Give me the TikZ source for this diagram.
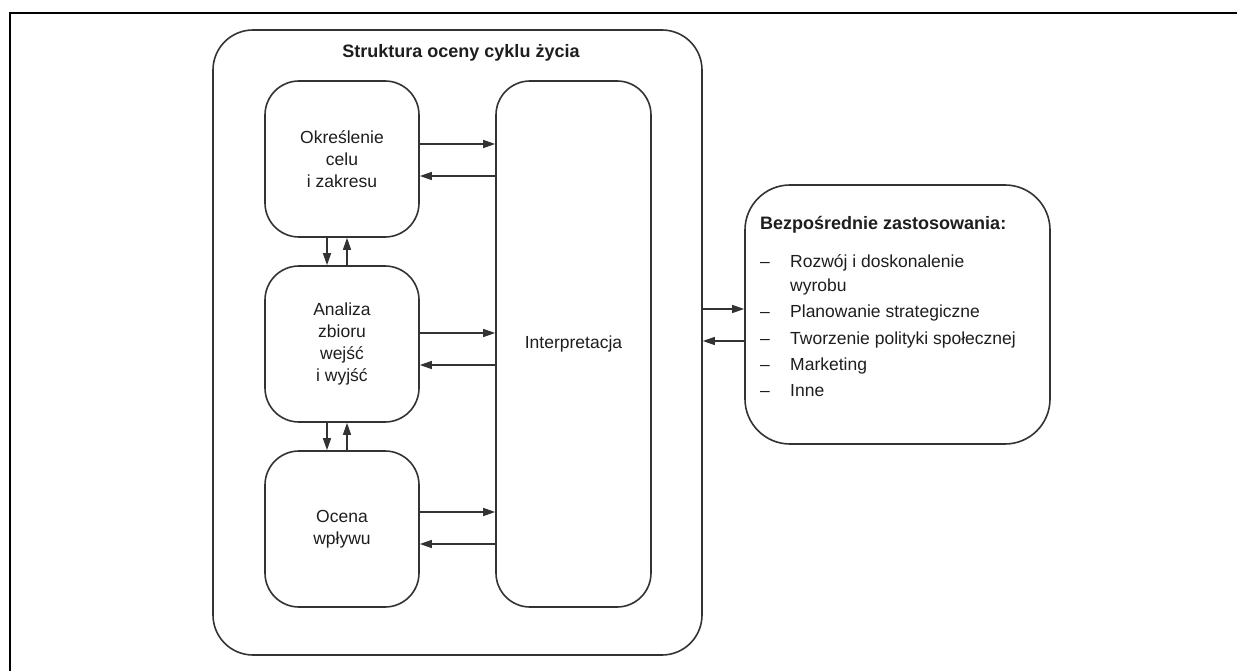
\documentclass[tikz,border=0pt]{standalone}
\usepackage{fontspec}
\setmainfont{Liberation Sans}
\usetikzlibrary{arrows.meta}
\definecolor{linegray}{HTML}{333333}
\definecolor{textgray}{HTML}{1E1E1E}
\begin{document}
\begin{tikzpicture}[x=1pt,y=-1pt,
  box/.style={draw=linegray, line width=1.6pt, rounded corners=34pt, fill=white,
    inner sep=0pt, align=center, text=textgray,
    font=\fontsize{17.5}{22}\selectfont},
  heading/.style={inner sep=0pt, text=textgray, font=\fontsize{18}{22}\selectfont\bfseries},
  item/.style={inner sep=0pt, anchor=base west, text=textgray, font=\fontsize{17.5}{22}\selectfont},
  arr/.style={draw=linegray, line width=1.3pt, -{Triangle[length=12pt,width=8pt]}},
]
\useasboundingbox (0,0) rectangle (1237,671);
% page frame
\draw[line width=2.6pt] (10,690) -- (10,13) -- (1260,13);

% life cycle assessment framework
\node[box, rounded corners=40pt, minimum width=489pt, minimum height=625pt] (big) at (457.5,342.5) {};
\node[heading] (bigtitle) at (461,52.5) {Struktura oceny cyklu życia};

\node[box, minimum width=154pt, minimum height=156pt] (b1) at (342,159) {Określenie\\celu\\i zakresu};
\node[box, minimum width=154pt, minimum height=156pt] (b2) at (342,344) {Analiza\\zbioru\\wejść\\i wyjść};
\node[box, minimum width=154pt, minimum height=156pt] (b3) at (342,529) {Ocena\\wpływu};
\node[box, minimum width=155pt, minimum height=526pt] (ip) at (573.5,344) {Interpretacja};

% direct applications
\node[box, rounded corners=45pt, minimum width=305pt, minimum height=259pt] (rb) at (897.5,314.5) {};
\node[heading, anchor=west] (rbtitle) at (760,224.5) {Bezpośrednie zastosowania:};
\foreach \y/\n in {268/d1, 317/d2, 344/d3, 370/d4, 396/d5}
  \node[item] (\n) at (760,\y) {–};
\node[item] (i1) at (790,268) {Rozwój i doskonalenie};
\node[item] (i1b) at (790,291) {wyrobu};
\node[item] (i2) at (790,317) {Planowanie strategiczne};
\node[item] (i3) at (790,344) {Tworzenie polityki społecznej};
\node[item] (i4) at (790,370) {Marketing};
\node[item] (i5) at (790,396) {Inne};

% exchanges with the interpretation phase
\draw[arr] ([yshift=15pt]b1.east) -- ([yshift=15pt]b1.east -| ip.west);
\draw[arr] ([yshift=-17pt]b1.east -| ip.west) -- ([yshift=-17pt]b1.east);
\draw[arr] ([yshift=11pt]b2.east) -- ([yshift=11pt]b2.east -| ip.west);
\draw[arr] ([yshift=-21pt]b2.east -| ip.west) -- ([yshift=-21pt]b2.east);
\draw[arr] ([yshift=17pt]b3.east) -- ([yshift=17pt]b3.east -| ip.west);
\draw[arr] ([yshift=-15pt]b3.east -| ip.west) -- ([yshift=-15pt]b3.east);

% exchanges between consecutive phases
\draw[arr] ([xshift=-15pt]b1.south) -- ([xshift=-15pt]b2.north);
\draw[arr] ([xshift=5pt]b2.north) -- ([xshift=5pt]b1.south);
\draw[arr] ([xshift=-15pt]b2.south) -- ([xshift=-15pt]b3.north);
\draw[arr] ([xshift=5pt]b3.north) -- ([xshift=5pt]b2.south);

% exchanges with the applications
\draw[arr] ([yshift=5.5pt]rb.west -| big.east) -- ([yshift=5.5pt]rb.west);
\draw[arr] ([yshift=-26.5pt]rb.west) -- ([yshift=-26.5pt]rb.west -| big.east);
\end{tikzpicture}
\end{document}
